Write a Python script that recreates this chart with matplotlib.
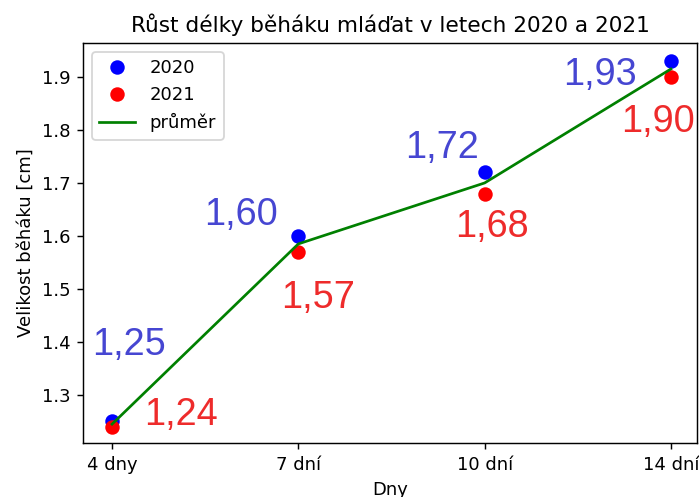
import numpy as np
import matplotlib
matplotlib.use("Agg")
import matplotlib.pyplot as plt

# data
dny = ["4 dny", "7 dní", "10 dní", "14 dní"]
rok2020 = [1.25, 1.60, 1.72, 1.93]
rok2021 = [1.24, 1.57, 1.68, 1.90]
prumer = [(a + b) / 2 for a, b in zip(rok2020, rok2021)]

popisky2020 = ["1,25", "1,60", "1,72", "1,93"]
popisky2021 = ["1,24", "1,57", "1,68", "1,90"]

# offsets of the labels (points)
off2020 = [(9.4, 36.8), (-31.5, 6.1), (-23.6, 8.0), (-39.3, -13.2)]
off2021 = [(38.2, 1.0), (10.9, -31.0), (4.1, -24.0), (-6.9, -30.5)]

fig = plt.figure(figsize=(699/130, 497/130), dpi=130)
ax = fig.add_axes([83/699, 54/497, 614/699, 400/497])

x = np.arange(len(dny))
ax.plot(x, rok2020, "o", color="blue", markersize=7, label="2020")
ax.plot(x, rok2021, "o", color="red", markersize=7, label="2021")
ax.plot(x, prumer, "-", color="green", linewidth=1.5, label="průměr")

for i in range(len(dny)):
    ax.annotate(popisky2020[i], (x[i], rok2020[i]), xytext=off2020[i],
                textcoords="offset points", ha="center", va="baseline",
                fontsize=21, color="#4646d2", family="Liberation Sans")
    ax.annotate(popisky2021[i], (x[i], rok2021[i]), xytext=off2021[i],
                textcoords="offset points", ha="center", va="baseline",
                fontsize=21, color="#ee2b2b", family="Liberation Sans")

ax.set_xticks(x)
ax.set_xticklabels(dny)
ax.set_xlim(-0.156, 3.14)
ax.set_ylim(1.2094, 1.964)
ax.set_title("Růst délky běháku mláďat v letech 2020 a 2021")
ax.set_xlabel("Dny")
ax.set_ylabel("Velikost běháku [cm]")
ax.legend(loc="upper left")

fig.savefig("out.png", dpi=130)
